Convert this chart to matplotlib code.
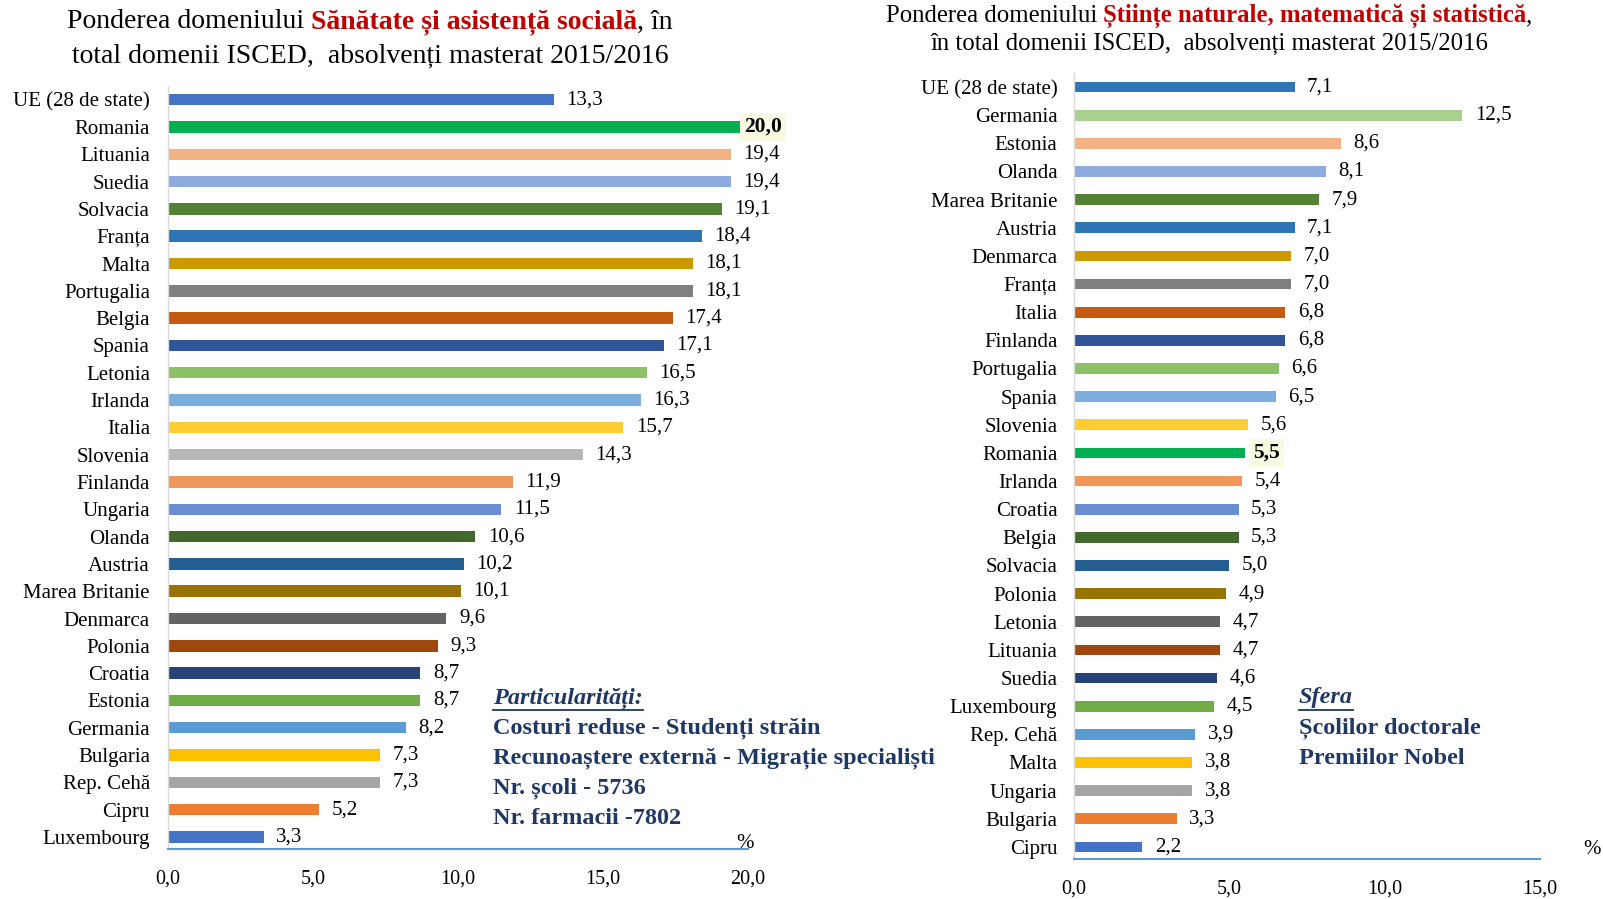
import matplotlib
matplotlib.use("Agg")
import matplotlib.pyplot as plt
from matplotlib.lines import Line2D

plt.rcParams['font.family'] = ['Liberation Serif', 'DejaVu Serif']

# ---------------- data ----------------
left_countries = ["UE (28 de state)", "Romania", "Lituania", "Suedia", "Solvacia", "Franța", "Malta",
                  "Portugalia", "Belgia", "Spania", "Letonia", "Irlanda", "Italia", "Slovenia",
                  "Finlanda", "Ungaria", "Olanda", "Austria", "Marea Britanie", "Denmarca", "Polonia",
                  "Croatia", "Estonia", "Germania", "Bulgaria", "Rep. Cehă", "Cipru", "Luxembourg"]
left_values = [13.3, 20.0, 19.4, 19.4, 19.1, 18.4, 18.1, 18.1, 17.4, 17.1, 16.5, 16.3, 15.7, 14.3,
               11.9, 11.5, 10.6, 10.2, 10.1, 9.6, 9.3, 8.7, 8.7, 8.2, 7.3, 7.3, 5.2, 3.3]
left_colors = ["#4472C4", "#00B050", "#F4B183", "#8FAADC", "#548235", "#2E75B6", "#CC9A00",
               "#7F7F7F", "#C55A11", "#2F5597", "#8CC168", "#7CAFDD", "#FFCD33", "#B7B7B7",
               "#F1975A", "#698ED0", "#43682B", "#255E91", "#997300", "#636363", "#9E480E",
               "#264478", "#70AD47", "#5B9BD5", "#FFC000", "#A5A5A5", "#ED7D31", "#4472C4"]
left_ticks = [0, 5, 10, 15, 20]

right_countries = ["UE (28 de state)", "Germania", "Estonia", "Olanda", "Marea Britanie", "Austria",
                   "Denmarca", "Franța", "Italia", "Finlanda", "Portugalia", "Spania", "Slovenia",
                   "Romania", "Irlanda", "Croatia", "Belgia", "Solvacia", "Polonia", "Letonia",
                   "Lituania", "Suedia", "Luxembourg", "Rep. Cehă", "Malta", "Ungaria", "Bulgaria", "Cipru"]
right_values = [7.1, 12.5, 8.6, 8.1, 7.9, 7.1, 7.0, 7.0, 6.8, 6.8, 6.6, 6.5, 5.6, 5.5, 5.4, 5.3, 5.3,
                5.0, 4.9, 4.7, 4.7, 4.6, 4.5, 3.9, 3.8, 3.8, 3.3, 2.2]
right_colors = ["#2E75B6", "#A9D18E", "#F4B183", "#8FAADC", "#548235", "#2E75B6", "#CC9A00",
                "#7F7F7F", "#C55A11", "#2F5597", "#8CC168", "#7CAFDD", "#FFCD33", "#00B050",
                "#F1975A", "#698ED0", "#43682B", "#255E91", "#997300", "#636363", "#9E480E",
                "#264478", "#70AD47", "#5B9BD5", "#FFC000", "#A5A5A5", "#ED7D31", "#4472C4"]
right_ticks = [0, 5, 10, 15]

highlight = "Romania"

left_title = [("Ponderea domeniului ", "black", "normal"),
              ("Sănătate și asistență socială", "#C00000", "bold"),
              (", în", "black", "normal")]
left_title2 = "total domenii ISCED,  absolvenți masterat 2015/2016"
right_title = [("Ponderea domeniului ", "black", "normal"),
               ("Științe naturale, matematică și statistică", "#C00000", "bold"),
               (",", "black", "normal")]
right_title2 = "în total domenii ISCED,  absolvenți masterat 2015/2016"

left_note_head = "Particularități:"
left_note_lines = ["Costuri reduse - Studenți străin",
                   "Recunoaștere externă - Migrație specialiști",
                   "Nr. școli - 5736",
                   "Nr. farmacii -7802"]
right_note_head = "Sfera"
right_note_lines = ["Școlilor doctorale", "Premiilor Nobel"]

W, H = 1603, 899
fig = plt.figure(figsize=(W / 100, H / 100), dpi=100)
fig.patch.set_facecolor("white")
NAVY = "#1F3864"


def fmt(v):
    return f"{v:.1f}".replace(".", ",")


def draw_chart(rect, countries, values, colors, ticks, xmax, bar_h, ybottom, fs_lab, lab_pad,
               tick_pad, hl_offset):
    ax = fig.add_axes(rect)
    n = len(countries)
    y = list(range(n - 1, -1, -1))
    ax.barh(y, values, height=bar_h, color=colors, zorder=2)
    for yi, v, c in zip(y, values, countries):
        if c == highlight:
            ax.annotate(fmt(v), (v, yi), xytext=(hl_offset, 0), textcoords="offset points",
                        va="center", ha="left", fontsize=fs_lab + 0.5, fontweight="bold", zorder=5,
                        bbox=dict(boxstyle="square,pad=0.2", fc="#FAFAE2", ec="none"),
                        annotation_clip=False)
        else:
            ax.annotate(fmt(v), (v, yi), xytext=(9, 0), textcoords="offset points",
                        va="center", ha="left", fontsize=fs_lab, annotation_clip=False)
    ax.set_yticks(y)
    ax.set_yticklabels(countries, fontsize=fs_lab)
    ax.set_xticks(ticks)
    ax.set_xticklabels([fmt(t) for t in ticks], fontsize=14.5)
    ax.set_xlim(0, xmax)
    ax.set_ylim(ybottom, n - 0.5)
    ax.tick_params(axis="y", length=0, pad=lab_pad)
    ax.tick_params(axis="x", length=0, pad=tick_pad)
    for s in ["top", "right"]:
        ax.spines[s].set_visible(False)
    ax.spines["left"].set_color("#D9D9D9")
    ax.spines["left"].set_linewidth(1.0)
    ax.spines["bottom"].set_color("#5B9BD5")
    ax.spines["bottom"].set_linewidth(1.5)
    return ax


axL = draw_chart([168 / W, 50 / H, 580 / W, 763 / H], left_countries, left_values, left_colors,
                 left_ticks, 20, 0.42, -0.44, 15, 13, 15, -3)
axR = draw_chart([1074 / W, 40 / H, 466 / W, 786 / H], right_countries, right_values, right_colors,
                 right_ticks, 15, 0.38, -0.43, 15, 12, 15, 6)

fig.text(745 / W, 1 - 843 / H, "%", fontsize=15, ha="center", va="center")
fig.text(1592 / W, 1 - 850 / H, "%", fontsize=15, ha="center", va="center")

renderer = fig.canvas.get_renderer()


def colored_line(xc, yc, parts, size):
    texts = []
    widths = []
    for s, col, wt in parts:
        t = fig.text(0, 0, s, color=col, fontweight=wt, fontsize=size, ha="left", va="center")
        texts.append(t)
        widths.append(t.get_window_extent(renderer).width)
    total = sum(widths)
    x = xc - total / 2
    for t, w in zip(texts, widths):
        t.set_position((x / W, 1 - yc / H))
        x += w


colored_line(370, 22, left_title, 20)
fig.text(370 / W, 1 - 56 / H, left_title2, fontsize=20, ha="center", va="center")
colored_line(1209, 16, right_title, 17.8)
fig.text(1209 / W, 1 - 44 / H, right_title2, fontsize=17.8, ha="center", va="center")


def note(x, y0, head, lines, dy):
    t = fig.text(x / W, 1 - y0 / H, head, fontsize=17.5, fontweight="bold", style="italic",
                 color=NAVY, ha="left", va="center")
    bb = t.get_window_extent(renderer)
    yline = 1 - (y0 + 12) / H
    fig.add_artist(Line2D([bb.x0 / W, bb.x1 / W], [yline, yline], color=NAVY, lw=1.3,
                          transform=fig.transFigure))
    for i, s in enumerate(lines):
        fig.text(x / W, 1 - (y0 + dy * (i + 1)) / H, s, fontsize=17.5, fontweight="bold",
                 color=NAVY, ha="left", va="center")


note(493, 698, left_note_head, left_note_lines, 30.2)
note(1299, 698, right_note_head, right_note_lines, 30.2)

fig.savefig("out.png", dpi=100)
